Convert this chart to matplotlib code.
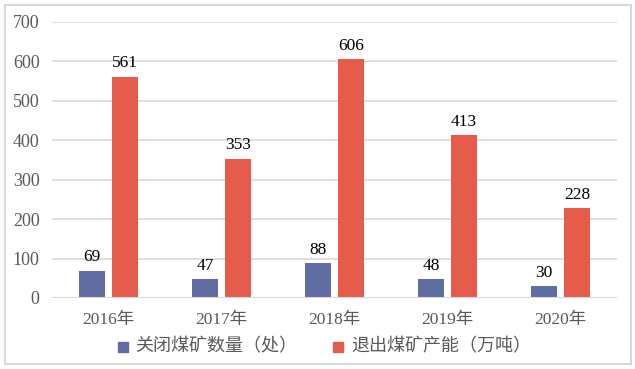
import matplotlib.pyplot as plt
import numpy as np
from matplotlib.patches import Rectangle

plt.rcParams['font.family'] = ['Liberation Serif', 'Noto Sans CJK SC']

years = ['2016年', '2017年', '2018年', '2019年', '2020年']
closed_mines = [69, 47, 88, 48, 30]
capacity = [561, 353, 606, 413, 228]
series_names = ['关闭煤矿数量（处）', '退出煤矿产能（万吨）']

blue = '#5E6EA3'
red = '#E55B4C'
grid_gray = '#D9D9D9'
text_gray = '#595959'

fig = plt.figure(figsize=(6.35, 3.69), dpi=100)
ax = fig.add_axes([52 / 635, 1 - 298 / 369, 565 / 635, 276 / 369])

x = np.arange(len(years))
w = 0.225
off = 0.145
b1 = ax.bar(x - off, closed_mines, w, color=blue, zorder=3)
b2 = ax.bar(x + off, capacity, w, color=red, zorder=3)

for bars, vals in ((b1, closed_mines), (b2, capacity)):
    for rect, v in zip(bars, vals):
        ax.text(rect.get_x() + rect.get_width() / 2, v + 14, str(v),
                ha='center', va='bottom', fontsize=12.5, color='black')

ax.set_xlim(-0.5, len(years) - 0.5)
ax.set_ylim(0, 700)
ax.set_yticks(range(0, 701, 100))
ax.set_xticks(x)
ax.set_xticklabels(years)
ax.tick_params(axis='both', length=0, colors=text_gray)
ax.tick_params(axis='x', pad=10, labelsize=12.5)
ax.tick_params(axis='y', pad=9, labelsize=13)
ax.grid(axis='y', color=grid_gray, linewidth=1.2, zorder=0)
for s in ax.spines.values():
    s.set_visible(False)
ax.axhline(0, color=grid_gray, linewidth=1.5, zorder=4)

# outer frame and legend in figure coordinates
fig.patches.append(Rectangle((4.5 / 635, 1 - 364 / 369), 626 / 635, 359 / 369,
                             transform=fig.transFigure, fill=False,
                             edgecolor='#D9D9D9', linewidth=1.5))
fig.patches.append(Rectangle((118 / 635, 1 - 352 / 369), 10 / 635, 10 / 369,
                             transform=fig.transFigure, color=blue))
fig.text(135 / 635, 1 - 346 / 369, series_names[0], fontsize=13,
         color=text_gray, va='center', family=['Noto Sans CJK SC'])
fig.patches.append(Rectangle((333 / 635, 1 - 352 / 369), 10 / 635, 10 / 369,
                             transform=fig.transFigure, color=red))
fig.text(351 / 635, 1 - 346 / 369, series_names[1], fontsize=13,
         color=text_gray, va='center', family=['Noto Sans CJK SC'])

fig.savefig('out.png', dpi=100)
